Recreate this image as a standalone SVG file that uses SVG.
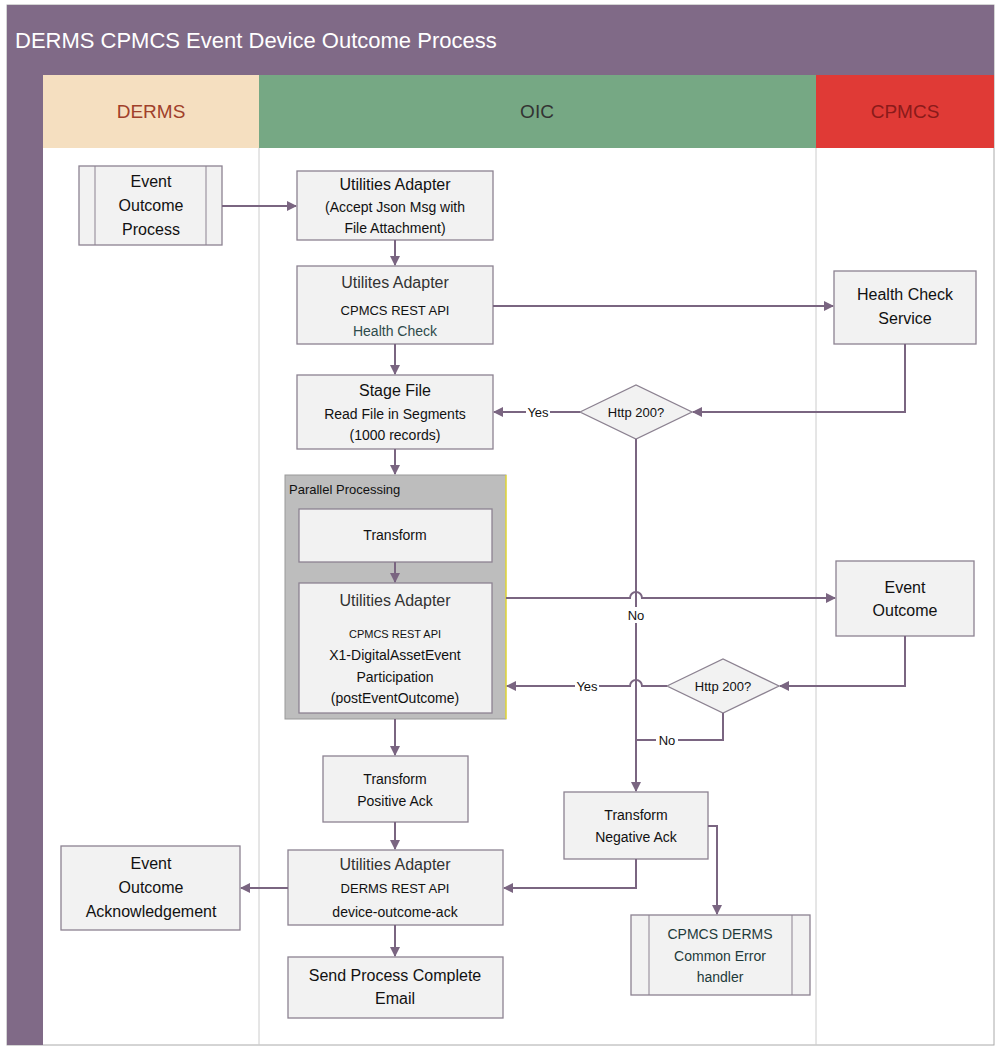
<svg xmlns="http://www.w3.org/2000/svg" width="999" height="1053" viewBox="0 0 999 1053">
<style>
text{font-family:"Liberation Sans",Arial,sans-serif;text-anchor:middle;fill:#111}
.b{fill:#f2f2f2;stroke:#8c8291;stroke-width:1.3}
.c{fill:none;stroke:#7a6581;stroke-width:2}
.t{font-size:16px}.s{font-size:13px}.m{font-size:14px}
.lbl{font-size:13px}
</style>
<defs><marker id="a" markerWidth="10" markerHeight="10" refX="9" refY="5" orient="auto" markerUnits="userSpaceOnUse"><path d="M0,0L10,5L0,10z" fill="#7a6581"/></marker></defs>
<g id="pool">
<rect x="7" y="5" width="987" height="1040" fill="#fff" stroke="#aaa"/>
<rect x="7" y="5" width="987" height="70" fill="#806a87"/>
<text x="15" y="48" style="text-anchor:start;fill:#fff;font-size:22px">DERMS CPMCS Event Device Outcome Process</text>
<rect x="7" y="75" width="36" height="970" fill="#806a87"/>
<rect x="43" y="75" width="216" height="73" fill="#f5dfc0"/>
<rect x="259" y="75" width="557" height="73" fill="#76a884"/>
<rect x="816" y="75" width="178" height="73" fill="#e03a36"/>
<text x="151" y="118" style="font-size:19px;fill:#a0402a">DERMS</text>
<text x="537" y="118" style="font-size:19px;fill:#333">OIC</text>
<text x="905" y="118" style="font-size:19px;fill:#8a1a1a">CPMCS</text>
<line x1="259" y1="148" x2="259" y2="1045" stroke="#ccc"/>
<line x1="816" y1="148" x2="816" y2="1045" stroke="#ccc"/>
</g>
<g id="n1"><rect class="b" x="79" y="166" width="143" height="79"/><line x1="95" y1="166" x2="95" y2="245" stroke="#8c8291"/><line x1="206" y1="166" x2="206" y2="245" stroke="#8c8291"/><text class="t" x="151" y="187">Event</text><text class="t" x="151" y="211">Outcome</text><text class="t" x="151" y="235">Process</text></g>
<g id="n2"><rect class="b" x="297" y="171" width="196" height="69"/><text class="t" x="395" y="190">Utilities Adapter</text><text class="m" x="395" y="212">(Accept Json Msg with</text><text class="m" x="395" y="233">File Attachment)</text></g>
<g id="n3"><rect class="b" x="297" y="266" width="196" height="78"/><text class="t" x="395" y="288" style="fill:#333">Utilites Adapter</text><text class="s" x="395" y="315">CPMCS REST API</text><text class="m" x="395" y="336" style="fill:#2e4a4a">Health Check</text></g>
<g id="n4"><rect class="b" x="834" y="271" width="142" height="73"/><text class="t" x="905" y="300">Health Check</text><text class="t" x="905" y="324">Service</text></g>
<g id="n5"><rect class="b" x="297" y="375" width="196" height="74"/><text class="t" x="395" y="396">Stage File</text><text class="m" x="395" y="419">Read File in Segments</text><text class="m" x="395" y="440">(1000 records)</text></g>
<g id="d1"><path class="b" d="M580,412L636,385L692,412L636,439Z"/><text class="s" x="636" y="417">Http 200?</text></g>
<g id="grp"><rect x="285" y="475" width="221" height="244" fill="#bdbdbd" stroke="#999"/><line x1="506" y1="475" x2="506" y2="719" stroke="#ffef00"/><text class="s" x="289" y="494" style="text-anchor:start">Parallel Processing</text></g>
<g id="n6"><rect class="b" x="299" y="509" width="193" height="53"/><text class="m" x="395" y="540">Transform</text></g>
<g id="n7"><rect class="b" x="299" y="583" width="193" height="130"/><text class="t" x="395" y="606" style="fill:#333">Utilities Adapter</text><text x="395" y="638" style="font-size:11px">CPMCS REST API</text><text class="m" x="395" y="660">X1-DigitalAssetEvent</text><text class="m" x="395" y="682">Participation</text><text class="m" x="395" y="703">(postEventOutcome)</text></g>
<g id="n8"><rect class="b" x="836" y="561" width="138" height="75"/><text class="t" x="905" y="593">Event</text><text class="t" x="905" y="616">Outcome</text></g>
<g id="d2"><path class="b" d="M667,686L723,659L779,686L723,713Z"/><text class="s" x="723" y="691">Http 200?</text></g>
<g id="n9"><rect class="b" x="323" y="756" width="145" height="66"/><text class="m" x="395" y="784">Transform</text><text class="m" x="395" y="806">Positive Ack</text></g>
<g id="n10"><rect class="b" x="564" y="792" width="144" height="67"/><text class="m" x="636" y="820">Transform</text><text class="m" x="636" y="842">Negative Ack</text></g>
<g id="n11"><rect class="b" x="288" y="850" width="215" height="75"/><text class="t" x="395" y="870" style="fill:#333">Utilities Adapter</text><text class="s" x="395" y="893">DERMS REST API</text><text class="m" x="395" y="917">device-outcome-ack</text></g>
<g id="n12"><rect class="b" x="61" y="846" width="179" height="84"/><text class="t" x="151" y="869">Event</text><text class="t" x="151" y="893">Outcome</text><text class="t" x="151" y="917">Acknowledgement</text></g>
<g id="n13"><rect class="b" x="288" y="957" width="215" height="61"/><text class="t" x="395" y="981">Send Process Complete</text><text class="t" x="395" y="1004">Email</text></g>
<g id="n14"><rect class="b" x="631" y="915" width="179" height="80"/><line x1="649" y1="915" x2="649" y2="995" stroke="#8c8291"/><line x1="792" y1="915" x2="792" y2="995" stroke="#8c8291"/><text class="m" x="720" y="939" style="fill:#1e3a3a">CPMCS DERMS</text><text class="m" x="720" y="961" style="fill:#1e3a3a">Common Error</text><text class="m" x="720" y="982" style="fill:#1e3a3a">handler</text></g>
<g id="connectors">
<path class="c" d="M222,206H296" marker-end="url(#a)"/>
<path class="c" d="M395,240V265" marker-end="url(#a)"/>
<path class="c" d="M493,306H833" marker-end="url(#a)"/>
<path class="c" d="M395,344V374" marker-end="url(#a)"/>
<path class="c" d="M905,344V412H693" marker-end="url(#a)"/>
<path class="c" d="M580,412H494" marker-end="url(#a)"/>
<path class="c" d="M395,449V474" marker-end="url(#a)"/>
<path class="c" d="M636,439V791" marker-end="url(#a)"/>
<path class="c" d="M395,562V582" marker-end="url(#a)"/>
<path class="c" d="M506,598H630A6,6 0 0 1 642,598H835" marker-end="url(#a)"/>
<path class="c" d="M905,636V686H780" marker-end="url(#a)"/>
<path class="c" d="M667,686H642A6,6 0 0 0 630,686H507" marker-end="url(#a)"/>
<path class="c" d="M723,713V740H636"/>
<path class="c" d="M395,719V755" marker-end="url(#a)"/>
<path class="c" d="M395,822V849" marker-end="url(#a)"/>
<path class="c" d="M636,859V888H504" marker-end="url(#a)"/>
<path class="c" d="M708,826H717V914" marker-end="url(#a)"/>
<path class="c" d="M288,888H241" marker-end="url(#a)"/>
<path class="c" d="M395,925V956" marker-end="url(#a)"/>
<rect x="526" y="404" width="24" height="16" fill="#fff"/><text class="lbl" x="538" y="417">Yes</text>
<rect x="624" y="607" width="24" height="16" fill="#fff"/><text class="lbl" x="636" y="620">No</text>
<rect x="575" y="678" width="24" height="16" fill="#fff"/><text class="lbl" x="587" y="691">Yes</text>
<rect x="656" y="732" width="22" height="16" fill="#fff"/><text class="lbl" x="667" y="745">No</text>
</g>
</svg>
